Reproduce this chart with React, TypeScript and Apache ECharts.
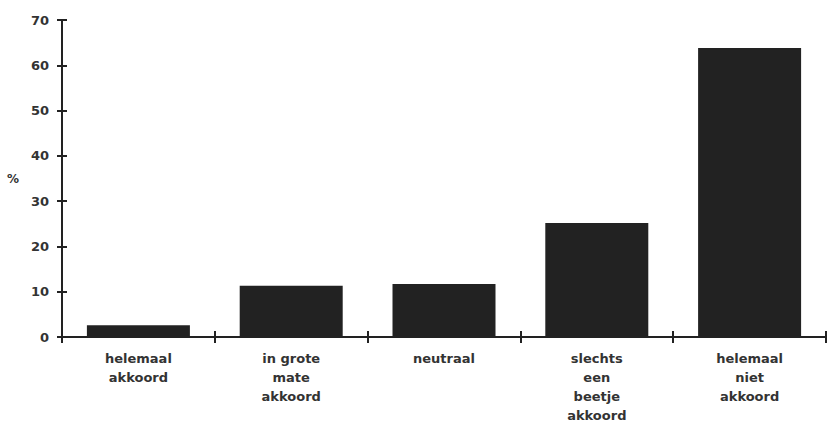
import React, { useEffect, useRef } from "react";
import * as echarts from "echarts";

const categories = [
  "helemaal\nakkoord",
  "in grote\nmate\nakkoord",
  "neutraal",
  "slechts\neen\nbeetje\nakkoord",
  "helemaal\nniet\nakkoord",
];
const percentages = [2.6, 11.3, 11.7, 25.2, 63.8];
const yMin = 0;
const yMax = 70;
const yStep = 10;

const INK = "#222";
const TEXT = "#333";
const FONT = "DejaVu Sans";

export default function App() {
  const ref = useRef<HTMLDivElement>(null);
  useEffect(() => {
    if (!ref.current) return;
    const chart = echarts.init(ref.current, undefined, { renderer: "svg" });
    const tickStyle = { color: INK, width: 2 };
    const gridRect = { left: 62, right: 1, top: 20, bottom: 89, containLabel: false, outerBoundsMode: "none" };
    chart.setOption({
      animation: false,
      backgroundColor: "#fff",
      grid: [gridRect, { ...gridRect }],
      xAxis: [
        {
          type: "category",
          gridIndex: 0,
          data: categories,
          position: "bottom",
          axisLine: { lineStyle: { color: INK, width: 2 } },
          axisTick: { show: true, length: 6, lineStyle: tickStyle },
          axisLabel: {
            interval: 0,
            margin: 12,
            color: TEXT,
            fontFamily: FONT,
            fontWeight: "bold",
            fontSize: 13,
            lineHeight: 19,
            verticalAlign: "top",
          },
          splitLine: { show: false },
        },
        {
          type: "category",
          gridIndex: 1,
          data: categories,
          position: "bottom",
          axisLine: { show: false },
          axisTick: { show: true, inside: true, length: 6, lineStyle: tickStyle },
          axisLabel: { show: false },
          splitLine: { show: false },
        },
      ],
      yAxis: [
        {
          type: "value",
          gridIndex: 0,
          min: yMin,
          max: yMax,
          interval: yStep,
          position: "left",
          name: "%",
          nameLocation: "middle",
          nameRotate: 0,
          nameGap: 43,
          nameTextStyle: { color: TEXT, fontFamily: FONT, fontWeight: "bold", fontSize: 12 },
          axisLine: { show: true, lineStyle: { color: INK, width: 2 } },
          axisTick: { show: true, length: 5, lineStyle: tickStyle },
          axisLabel: {
            margin: 13,
            color: TEXT,
            fontFamily: FONT,
            fontWeight: "bold",
            fontSize: 13,
          },
          splitLine: { show: false },
        },
        {
          type: "value",
          gridIndex: 1,
          min: yMin,
          max: yMax,
          interval: yStep,
          position: "left",
          axisLine: { show: false },
          axisTick: { show: true, inside: true, length: 5, lineStyle: tickStyle },
          axisLabel: { show: false },
          splitLine: { show: false },
        },
      ],
      series: [
        {
          type: "bar",
          data: percentages,
          xAxisIndex: 0,
          yAxisIndex: 0,
          barWidth: 103,
          itemStyle: { color: INK },
        },
      ],
    });
    return () => chart.dispose();
  }, []);
  return (
    <div
      ref={ref}
      style={{ position: "absolute", left: 0, top: 0, width: 827, height: 426, background: "#fff" }}
    />
  );
}
